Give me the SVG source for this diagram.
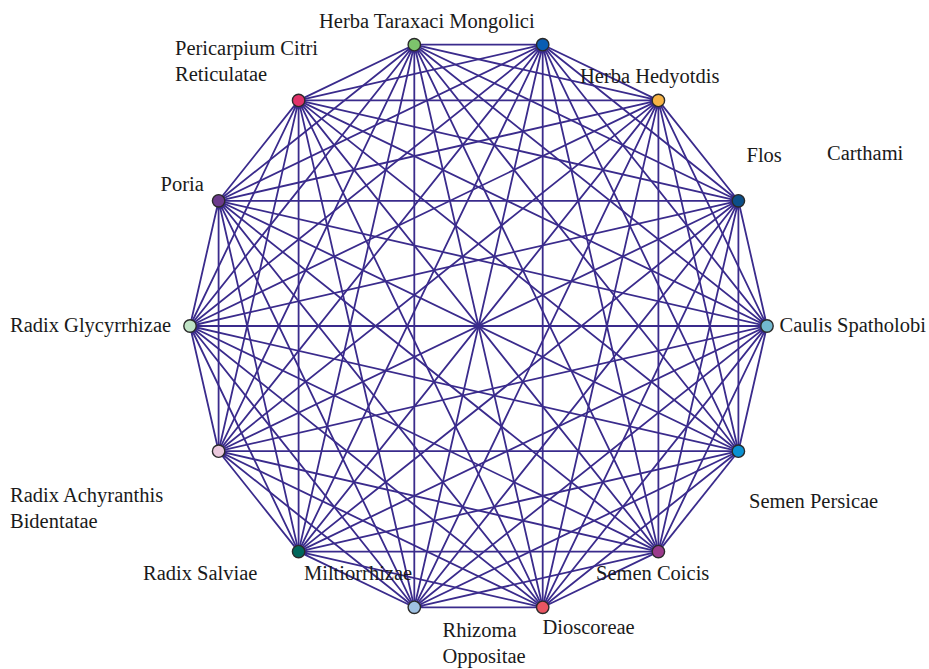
<svg xmlns="http://www.w3.org/2000/svg" width="929" height="669" viewBox="0 0 929 669">
<style>
.e{stroke:#3a2b8c;stroke-width:1.8;fill:none}
.n{stroke:#2a2a2a;stroke-width:1.4}
.t{font-family:"Liberation Serif","Times New Roman",serif;font-size:20.5px;fill:#1a1a1a}
</style>
<rect width="929" height="669" fill="#fff"/>
<g id="connectors" class="e">
<path d="M767,326L738.4,200.8M767,326L658.4,100.4M767,326L542.7,44.7M767,326L414.3,44.7M767,326L298.6,100.4M767,326L218.6,200.8M767,326L190,326M767,326L218.6,451.2M767,326L298.6,551.6M767,326L414.3,607.3M767,326L542.7,607.3M767,326L658.4,551.6M767,326L738.4,451.2"/>
<path d="M738.4,200.8L658.4,100.4M738.4,200.8L542.7,44.7M738.4,200.8L414.3,44.7M738.4,200.8L298.6,100.4M738.4,200.8L218.6,200.8M738.4,200.8L190,326M738.4,200.8L218.6,451.2M738.4,200.8L298.6,551.6M738.4,200.8L414.3,607.3M738.4,200.8L542.7,607.3M738.4,200.8L658.4,551.6M738.4,200.8L738.4,451.2"/>
<path d="M658.4,100.4L542.7,44.7M658.4,100.4L414.3,44.7M658.4,100.4L298.6,100.4M658.4,100.4L218.6,200.8M658.4,100.4L190,326M658.4,100.4L218.6,451.2M658.4,100.4L298.6,551.6M658.4,100.4L414.3,607.3M658.4,100.4L542.7,607.3M658.4,100.4L658.4,551.6M658.4,100.4L738.4,451.2"/>
<path d="M542.7,44.7L414.3,44.7M542.7,44.7L298.6,100.4M542.7,44.7L218.6,200.8M542.7,44.7L190,326M542.7,44.7L218.6,451.2M542.7,44.7L298.6,551.6M542.7,44.7L414.3,607.3M542.7,44.7L542.7,607.3M542.7,44.7L658.4,551.6M542.7,44.7L738.4,451.2"/>
<path d="M414.3,44.7L298.6,100.4M414.3,44.7L218.6,200.8M414.3,44.7L190,326M414.3,44.7L218.6,451.2M414.3,44.7L298.6,551.6M414.3,44.7L414.3,607.3M414.3,44.7L542.7,607.3M414.3,44.7L658.4,551.6M414.3,44.7L738.4,451.2"/>
<path d="M298.6,100.4L218.6,200.8M298.6,100.4L190,326M298.6,100.4L218.6,451.2M298.6,100.4L298.6,551.6M298.6,100.4L414.3,607.3M298.6,100.4L542.7,607.3M298.6,100.4L658.4,551.6M298.6,100.4L738.4,451.2"/>
<path d="M218.6,200.8L190,326M218.6,200.8L218.6,451.2M218.6,200.8L298.6,551.6M218.6,200.8L414.3,607.3M218.6,200.8L542.7,607.3M218.6,200.8L658.4,551.6M218.6,200.8L738.4,451.2"/>
<path d="M190,326L218.6,451.2M190,326L298.6,551.6M190,326L414.3,607.3M190,326L542.7,607.3M190,326L658.4,551.6M190,326L738.4,451.2"/>
<path d="M218.6,451.2L298.6,551.6M218.6,451.2L414.3,607.3M218.6,451.2L542.7,607.3M218.6,451.2L658.4,551.6M218.6,451.2L738.4,451.2"/>
<path d="M298.6,551.6L414.3,607.3M298.6,551.6L542.7,607.3M298.6,551.6L658.4,551.6M298.6,551.6L738.4,451.2"/>
<path d="M414.3,607.3L542.7,607.3M414.3,607.3L658.4,551.6M414.3,607.3L738.4,451.2"/>
<path d="M542.7,607.3L658.4,551.6M542.7,607.3L738.4,451.2"/>
<path d="M658.4,551.6L738.4,451.2"/>
</g>
<g id="caulis-spatholobi"><circle class="n" cx="767" cy="326" r="6.2" fill="#72b8cf"/><text class="t" x="779.5" y="332">Caulis Spatholobi</text></g>
<g id="flos-carthami"><circle class="n" cx="738.4" cy="200.8" r="6.2" fill="#0c4f88"/><text class="t" x="746.5" y="162">Flos</text><text class="t" x="827" y="160">Carthami</text></g>
<g id="herba-hedyotdis"><circle class="n" cx="658.4" cy="100.4" r="6.2" fill="#f7b446"/><text class="t" x="580" y="83">Herba Hedyotdis</text></g>
<g id="herba-taraxaci-b"><circle class="n" cx="542.7" cy="44.7" r="6.2" fill="#0a5db3"/></g>
<g id="herba-taraxaci-mongolici"><circle class="n" cx="414.3" cy="44.7" r="6.2" fill="#7dc36c"/><text class="t" x="319" y="28">Herba Taraxaci Mongolici</text></g>
<g id="pericarpium-citri-reticulatae"><circle class="n" cx="298.6" cy="100.4" r="6.2" fill="#e2336a"/><text class="t" x="175" y="55">Pericarpium Citri</text><text class="t" x="175" y="81">Reticulatae</text></g>
<g id="poria"><circle class="n" cx="218.6" cy="200.8" r="6.2" fill="#6c3a8c"/><text class="t" x="160.5" y="191">Poria</text></g>
<g id="radix-glycyrrhizae"><circle class="n" cx="190" cy="326" r="6.2" fill="#c0e4c6"/><text class="t" x="10" y="332">Radix Glycyrrhizae</text></g>
<g id="radix-achyranthis-bidentatae"><circle class="n" cx="218.6" cy="451.2" r="6.2" fill="#ebc9dd"/><text class="t" x="10" y="502">Radix Achyranthis</text><text class="t" x="10" y="528">Bidentatae</text></g>
<g id="radix-salviae-miltiorrhizae"><circle class="n" cx="298.6" cy="551.6" r="6.2" fill="#00675b"/><text class="t" x="143" y="580">Radix Salviae</text><text class="t" x="304" y="580">Miltiorrhizae</text></g>
<g id="rhizoma-oppositae"><circle class="n" cx="414.3" cy="607.3" r="6.2" fill="#9fc1e2"/><text class="t" x="442.5" y="637">Rhizoma</text><text class="t" x="442.5" y="663">Oppositae</text></g>
<g id="dioscoreae"><circle class="n" cx="542.7" cy="607.3" r="6.2" fill="#ea5662"/><text class="t" x="542.5" y="633.5">Dioscoreae</text></g>
<g id="semen-coicis"><circle class="n" cx="658.4" cy="551.6" r="6.2" fill="#9b3b8c"/><text class="t" x="596" y="579.5">Semen Coicis</text></g>
<g id="semen-persicae"><circle class="n" cx="738.4" cy="451.2" r="6.2" fill="#0a92d2"/><text class="t" x="749" y="507.5">Semen Persicae</text></g>
</svg>
